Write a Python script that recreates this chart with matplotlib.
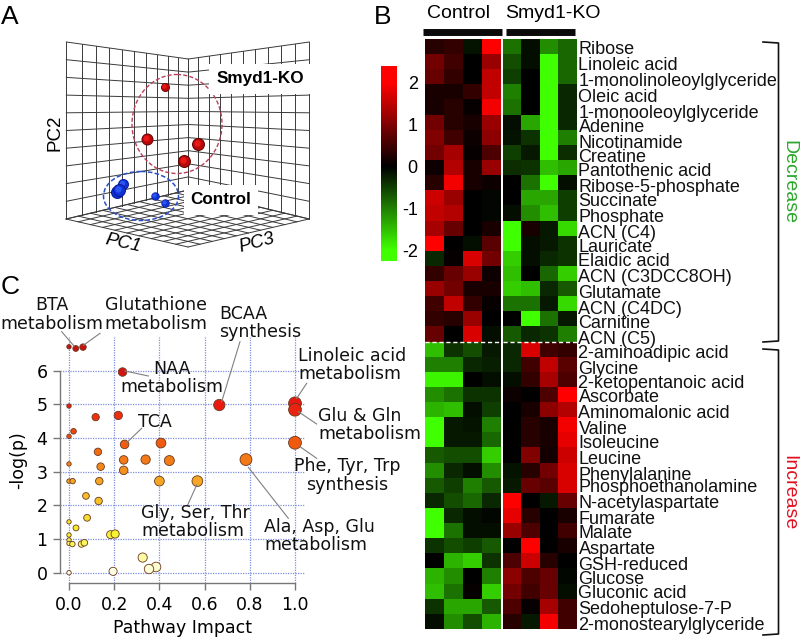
import numpy as np
import matplotlib
matplotlib.use("Agg")
import matplotlib.pyplot as plt
from matplotlib.colors import LinearSegmentedColormap
from matplotlib.patches import Ellipse

W, H = 800, 637

# panel A, positions in the projected view of the cube
red_x = [165, 147, 198, 184]
red_y = [87, 139, 144, 161]
red_r = [4.5, 6, 6.5, 6.5]
blue_x = [123, 117, 119, 155, 165]
blue_y = [184, 192, 190, 196, 203]
blue_r = [5.5, 6.5, 6.5, 4.2, 4.2]

# panel B
decrease_names = ["Ribose", "Linoleic acid", "1-monolinoleoylglyceride", "Oleic acid",
                  "1-monooleoylglyceride", "Adenine", "Nicotinamide", "Creatine",
                  "Pantothenic acid", "Ribose-5-phosphate", "Succinate", "Phosphate",
                  "ACN (C4)", "Lauricate", "Elaidic acid", "ACN (C3DCC8OH)", "Glutamate",
                  "ACN (C4DC)", "Carnitine", "ACN (C5)"]
increase_names = ["2-aminoadipic acid", "Glycine", "2-ketopentanoic acid", "Ascorbate",
                  "Aminomalonic acid", "Valine", "Isoleucine", "Leucine", "Phenylalanine",
                  "Phosphoethanolamine", "N-acetylaspartate", "Fumarate", "Malate", "Aspartate",
                  "GSH-reduced", "Glucose", "Gluconic acid", "Sedoheptulose-7-P",
                  "2-monostearylglyceride"]
# the labels are hand placed in the source, not evenly spaced
name_y = [47, 63, 79, 95, 112, 126, 142, 155, 170, 185, 200, 215, 231, 245, 259, 276, 292, 307,
          322, 337, 351, 367, 382, 396, 411, 428, 442, 457, 473, 486, 501, 517, 532, 548, 563,
          577, 592, 607, 623]
control_vals = [
    [.3, .4, -.15, 2.2], [.9, .5, 0, 1.2], [.8, .4, 0, 1.5], [.2, .2, .4, 1.5],
    [.2, .3, .05, 1.9], [.9, .3, .2, 1.2], [1, .5, .1, 1.1], [.9, 1.3, .05, .6],
    [.1, 1.4, .2, 1.2], [.3, 1.9, .2, .1], [1.6, 1.2, 0, -.05], [1.5, 1.4, 0, -.05],
    [1.3, .8, 0, .2], [2, 0, -.1, .7], [-.3, .05, 1.7, .9], [.4, .8, 1.2, .1],
    [1.2, .9, .2, .2], [.5, 1.5, .4, .05], [.4, .3, 1.2, 0], [.8, 0, 1.7, -.1],
    [-1.5, -.4, -.6, -.2], [-1, -1, -.3, -.25], [-1.9, -1.9, 0, -.1], [-1.1, -.9, -.4, -.4],
    [-1.4, -1.5, -.1, -.5], [-2, -.2, -.15, -1], [-2.1, -.2, -.2, -.8], [-.7, -.6, -.6, -1.6],
    [-1.1, -.3, -.1, -1.1], [-.7, -.5, -1, -.7], [-.3, -.6, -.8, -.3], [-2.2, -.3, -.1, -.05],
    [-2.2, -.9, -.1, -.1], [-.4, -.6, -.5, -.7], [0, -1.4, -1.6, -.4], [-1.4, -1.1, 0, -1],
    [-1.5, -.9, .05, -1.6], [-.4, -1.3, -1.3, -.7], [-.1, -1.1, -.6, -1.4]]
ko_vals = [
    [-.9, -.1, -1.1, -.8], [-.6, -.1, -2.2, -.8], [-.5, 0, -2.2, -.8], [-1, 0, -2.2, -.3],
    [-.9, 0, -2.2, -.3], [-.1, -1.3, -2.2, -.3], [-.15, -.4, -2.2, -1], [-.5, -.2, -2.2, -.35],
    [-.35, -.4, -1.5, -1.3], [0, -.9, -2.2, -.1], [0, -1.3, -1.3, -.5], [-.1, -1.1, -1.5, -.5],
    [-2.2, .2, -.2, -1.7], [-2, -.1, -.2, -.4], [-1.6, -.1, -.3, -.4], [-1.5, 0, -.8, -1.6],
    [-1.6, -1.5, -.3, -.7], [-.9, -.9, -.2, -1.7], [0, -2.2, -.9, -.2], [-.7, -.3, -.4, -1],
    [-.3, 1.7, .5, .4], [-.3, .5, 1.5, .7], [-.1, .4, 1.3, .6], [.1, 0, .6, 2],
    [0, .2, 1.1, 1.4], [0, .3, .2, 1.9], [0, .3, .2, 1.8], [0, 1, .15, 1.6],
    [-.15, .3, .9, 1.7], [-.2, .8, .7, 1.7], [2, 0, -.2, .8], [1.8, .3, 0, .2],
    [1.2, .6, 0, .5], [0, 2.2, 0, .2], [.6, 1.6, .3, 0], [1.1, .6, .8, -.05],
    [.9, .5, .8, -.1], [.6, .05, 1.3, .5], [.3, -.2, 1.9, .5]]
colorbar_ticks = [2, 1, 0, -1, -2]

# panel C
impact = [0, .03, .062, .237, 0, .665, 1, 1, .118, .218, .02, 0, .246, .407, 1, .128, .14,
          .242, .339, .444, .783, .242, 0, 0, .016, .134, .4, .568, .075, .131, .08, 0, .031,
          0, .184, .204, 0, 0, .015, .055, .068, .326, .385, .354, .195, 0]
logp = [6.71, 6.66, 6.7, 5.96, 4.95, 4.98, 5.03, 4.84, 4.62, 4.67, 4.2, 4.05, 3.81, 3.85, 3.86,
        3.59, 3.15, 3.35, 3.36, 3.33, 3.36, 3.04, 3.23, 2.72, 2.72, 2.72, 2.72, 2.72, 2.28, 2.13,
        1.63, 1.51, 1.33, 1.12, 1.13, 1.15, .97, .87, .85, .85, .89, .45, .17, .11, .04, 0]
x_ticks = [0, .2, .4, .6, .8, 1]
y_ticks = [0, 1, 2, 3, 4, 5, 6]

SANS = "Liberation Sans"


def px_axes(fig, left, top, right, bottom, **kw):
    # axes placed by pixel box of the 800x637 canvas
    return fig.add_axes([left / W, 1 - bottom / H, (right - left) / W, (bottom - top) / H], **kw)


def draw_sphere(ax, x, y, r, dark, mid, light):
    for frac, col in [(1, dark), (.85, mid), (.5, light)]:
        ax.scatter(x - r * (1 - frac) * .25, y - r * (1 - frac) * .25, s=(2 * r * frac * .72) ** 2,
                   color=col, linewidths=0, zorder=5)


def wall_lines(ax):
    # perspective cube: two walls and a floor, 10 cells each way
    lx = np.array([199, 245, 287, 327, 365, 403, 437, 472, 503, 535, 565]) / 3
    rx = np.array([565, 595, 627, 660, 693, 728, 765, 803, 843, 885, 928]) / 3
    kw = dict(color="#3a3a3a", lw=.7, zorder=1)
    lt, lb, ct, cb = 42, 219, 59, 190
    for i in range(11):
        t = i / 10
        ax.plot([lx[0], lx[-1]], [lt + (lb - lt) * t, ct + (cb - ct) * t], **kw)
        ax.plot([rx[0], rx[-1]], [ct + (cb - ct) * t, lt + (lb - lt) * t], **kw)
        tx = (lx[i] - lx[0]) / (lx[-1] - lx[0])
        ax.plot([lx[i], lx[i]], [lt + (ct - lt) * tx, lb + (cb - lb) * tx], **kw)
        tx = (rx[i] - rx[0]) / (rx[-1] - rx[0])
        ax.plot([rx[i], rx[i]], [ct + (lt - ct) * tx, cb + (lb - cb) * tx], **kw)
    # floor
    L, B, R, F = np.array([66, 219.]), np.array([188, 190.]), np.array([309, 219.]), np.array([188, 247.])
    for i in range(11):
        t = i / 10
        p, q = L + (B - L) * t, F + (R - F) * t
        ax.plot([p[0], q[0]], [p[1], q[1]], **kw)
        p, q = L + (F - L) * t, B + (R - B) * t
        ax.plot([p[0], q[0]], [p[1], q[1]], **kw)


def bracket(ax, top, bottom):
    ax.plot([763, 778.5, 778.5, 763], [top, top + 1, bottom - 1, bottom], color="#111111", lw=1.2)


heat_cmap = LinearSegmentedColormap.from_list("heat", [(0, (.25, 1, 0)), (.5, (0, 0, 0)), (1, (1, 0, 0))])
path_cmap = LinearSegmentedColormap.from_list(
    "path", [(0, "#ffffe8"), (.17, "#f4f430"), (.4, "#f5a623"), (.55, "#f2600f"), (.75, "#e81510"), (1, "#c41010")])

fig = plt.figure(figsize=(W / 100, H / 100), dpi=100)

# ---- panel B heatmap
names = decrease_names + increase_names
ax_c = px_axes(fig, 425.3, 39, 500.7, 629)
ax_k = px_axes(fig, 503, 39, 577, 629)
ax_c.imshow(control_vals, cmap=heat_cmap, vmin=-2, vmax=2, aspect="auto", interpolation="nearest")
ax_k.imshow(ko_vals, cmap=heat_cmap, vmin=-2, vmax=2, aspect="auto", interpolation="nearest")
for a in (ax_c, ax_k):
    a.set_xticks([])
    a.set_yticks([])
    for s in a.spines.values():
        s.set_visible(False)
    a.axhline(len(decrease_names) - .5, color="white", lw=1, ls=(0, (3, 2)))

ax_bar = px_axes(fig, 381, 66, 397, 261)
grad = np.linspace(2.38, -2.24, 200).reshape(-1, 1)
ax_bar.imshow(grad, cmap=heat_cmap, vmin=-2, vmax=2, aspect="auto", extent=[0, 1, -2.24, 2.38])
ax_bar.set_xticks([])
ax_bar.yaxis.tick_right()
ax_bar.set_yticks(colorbar_ticks, [str(t) for t in colorbar_ticks], fontsize=13, family=SANS, ha="right")
ax_bar.tick_params(axis="y", length=0, pad=15)
for s in ax_bar.spines.values():
    s.set_visible(False)

# ---- panel C bubbles
ax_p = px_axes(fig, 60, 337, 305, 583)
ax_p.set_xlim((60 - 69) / 226, (305 - 69) / 226)
ax_p.set_ylim((572.7 - 583) / 33.67, (572.7 - 337) / 33.67)
ax_p.patch.set_alpha(0)
ax_p.grid(True, color="#7f8fe0", lw=.9, ls=(0, (1, 1)))
ax_p.set_axisbelow(True)
ax_p.set_xticks(x_ticks, [f"{t:.1f}" for t in x_ticks], fontsize=12.5)
ax_p.set_yticks(y_ticks, [str(t) for t in y_ticks], fontsize=12.5)
ax_p.tick_params(color="#777777", length=5, width=1, pad=4)
for s in ("top", "right"):
    ax_p.spines[s].set_visible(False)
for s in ("left", "bottom"):
    ax_p.spines[s].set_color("#777777")
    ax_p.spines[s].set_linewidth(1)
ax_p.spines["left"].set_bounds(0, 6)
ax_p.spines["bottom"].set_bounds(0, 1)
ax_p.set_xlabel("Pathway Impact", fontsize=12.5, labelpad=4)
ax_p.set_ylabel("-log(p)", fontsize=12.5, labelpad=7)
radius = 2.2 + 4.2 * np.sqrt(np.array(impact))
ax_p.scatter(impact, logp, s=(2 * radius * .72) ** 2, c=logp, cmap=path_cmap, vmin=0, vmax=6.8,
             edgecolors="#6a3a20", linewidths=.6, zorder=4, clip_on=False)

# ---- overlay in canvas pixels: panel A and all free text
ov = fig.add_axes([0, 0, 1, 1], zorder=10)
ov.set_xlim(0, W)
ov.set_ylim(H, 0)
ov.axis("off")

for letter, x, y in [("A", 1, 17), ("B", 374, 17), ("C", 1, 287)]:
    ov.text(x, y, letter, fontsize=19, family=SANS, ha="left", va="center")

wall_lines(ov)
ov.add_patch(Ellipse((177, 124), 90, 99, fill=False, ec="#b8405a", lw=1, ls=(0, (3, 1.5)), zorder=4))
ov.add_patch(Ellipse((141, 196), 75, 49, fill=False, ec="#2a50c8", lw=1.1, ls=(0, (3, 1.5)), zorder=4))
for x, y, r in zip(red_x, red_y, red_r):
    draw_sphere(ov, x, y, r, "#5a0505", "#b80808", "#e81818")
for x, y, r in zip(blue_x, blue_y, blue_r):
    draw_sphere(ov, x, y, r, "#0a1a90", "#1030d8", "#2a55f0")

box = dict(fc="white", ec="none", pad=5)
ov.text(260, 79, "Smyd1-KO", fontsize=12.3, family=SANS, weight="bold", ha="center", va="center", bbox=box, zorder=6)
ov.text(221, 200, "Control", fontsize=12.3, family=SANS, weight="bold", ha="center", va="center", bbox=box, zorder=6)
ov.text(55, 133, "PC2", fontsize=13.5, family=SANS, rotation=90, ha="center", va="center")
ov.text(123, 243, "PC1", fontsize=13.5, family=SANS, style="italic", rotation=-12, ha="center", va="center")
ov.text(257, 243, "PC3", fontsize=13.5, family=SANS, style="italic", rotation=15, ha="center", va="center")

ov.text(458.5, 13, "Control", fontsize=14, family=SANS, ha="center", va="center")
ov.text(553, 14, "Smyd1-KO", fontsize=14, family=SANS, ha="center", va="center")
ov.plot([423, 501.7], [32.2, 32.2], color="#0a0a0a", lw=5, solid_capstyle="butt")
ov.plot([505.7, 575], [32.2, 32.2], color="#0a0a0a", lw=5, solid_capstyle="butt")

for name, y in zip(names, name_y):
    ov.text(578.5, y, name, fontsize=13, family=SANS, ha="left", va="center_baseline", color="#111111")

bracket(ov, 42, 342)
bracket(ov, 349, 635)
ov.text(789, 182, "Decrease", fontsize=14, family=SANS, color="#2aa82a", rotation=270, ha="center", va="center")
ov.text(789, 493, "Increase", fontsize=14, family=SANS, color="#e01020", rotation=270, ha="center", va="center")

# pathway labels and their leader lines
c_labels = [
    ("BTA\nmetabolism", 52, 314.5, "center"), ("Glutathione\nmetabolism", 156, 314.5, "center"),
    ("BCAA\nsynthesis", 219, 323, "left"), ("NAA\nmetabolism", 171.5, 378, "center"),
    ("Linoleic acid\nmetabolism", 298, 365, "left"), ("Glu & Gln\nmetabolism", 318, 425, "left"),
    ("TCA", 155, 421.7, "center"), ("Phe, Tyr, Trp\nsynthesis", 347, 475.7, "center"),
    ("Gly, Ser, Thr\nmetabolism", 141, 522, "left"), ("Ala, Asp, Glu\nmetabolism", 264, 536, "left")]
for txt, x, y, ha in c_labels:
    ov.text(x, y, txt, fontsize=12.5, ha=ha, va="center", multialignment=ha, linespacing=1.03, color="#111111")
leaders = [((185, 185), (222, 228)), ((300, 190), (250, 226)), ((720, 215), (665, 395)),
           ((445, 318), (375, 303)), ((920, 340), (890, 385)), ((950, 462), (895, 425)),
           ((425, 475), (380, 518)), ((950, 565), (900, 530)), ((563, 705), (590, 645)),
           ((865, 745), (745, 592))]
for (x0, y0), (x1, y1) in leaders:
    ov.plot([x0 / 3, x1 / 3], [270 + y0 / 3, 270 + y1 / 3], color="#808080", lw=.8)

fig.savefig("out.png", dpi=100)
